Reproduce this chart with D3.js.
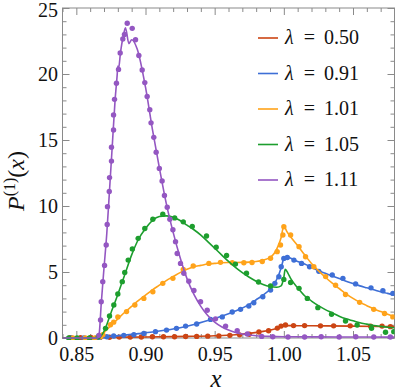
<!DOCTYPE html>
<html><head><meta charset="utf-8">
<script src="https://cdn.jsdelivr.net/npm/d3@7"></script>
<style>body{margin:0;background:#fff}svg{display:block}
svg text{font-family:"Liberation Serif","Times New Roman","DejaVu Serif",serif;}
</style>
</head><body>
<svg id="c" width="395" height="392"></svg>
<script>
// ---------- data ----------
const seriesLabels = ["0.50", "0.91", "1.01", "1.05", "1.11"];
const seriesColors = ["#CC4514", "#3E6FD6", "#FFA31A", "#1D9E2E", "#9457C2"];
const xTicks = [0.85, 0.90, 0.95, 1.00, 1.05];
const xTickLabels = ["0.85", "0.90", "0.95", "1.00", "1.05"];
const yTicks = [0, 5, 10, 15, 20, 25];
const yTickLabels = ["0", "5", "10", "15", "20", "25"];

// theory curves (x, P)
const lineRed = [[0.840,0.02],[0.870,0.05],[0.900,0.08],[0.930,0.12],[0.950,0.17],[0.965,0.25],[0.975,0.35],[0.985,0.5],[0.992,0.65],[0.997,0.8],[1.000,0.92],[1.003,0.94],[1.010,0.93],[1.030,0.92],[1.050,0.9],[1.080,0.86]];
const lineBlue = [[0.840,0],[0.866,0],[0.875,0.12],[0.885,0.22],[0.895,0.33],[0.905,0.45],[0.915,0.6],[0.925,0.78],[0.935,1.02],[0.945,1.32],[0.955,1.65],[0.965,2.05],[0.975,2.55],[0.980,2.9],[0.985,3.25],[0.990,3.7],[0.993,4.1],[0.996,4.7],[0.998,5.3],[1.000,6.0],[1.002,6.15],[1.005,6.05],[1.010,5.8],[1.015,5.6],[1.020,5.35],[1.025,5.1],[1.030,4.9],[1.035,4.7],[1.040,4.5],[1.045,4.3],[1.050,4.12],[1.055,3.95],[1.060,3.8],[1.065,3.65],[1.070,3.5],[1.075,3.38],[1.080,3.25]];
const lineOrange = [[0.840,0],[0.866,0],[0.870,0.4],[0.875,0.95],[0.880,1.45],[0.885,1.95],[0.890,2.4],[0.895,2.85],[0.900,3.25],[0.905,3.65],[0.910,4.0],[0.915,4.35],[0.920,4.65],[0.925,4.95],[0.930,5.2],[0.935,5.4],[0.940,5.5],[0.945,5.6],[0.950,5.65],[0.955,5.7],[0.960,5.72],[0.965,5.72],[0.970,5.73],[0.975,5.75],[0.980,5.8],[0.985,5.9],[0.990,6.1],[0.993,6.4],[0.996,7.0],[0.998,7.6],[1.000,8.5],[1.002,8.1],[1.005,7.65],[1.010,7.0],[1.015,6.3],[1.020,5.65],[1.025,5.1],[1.030,4.6],[1.035,4.15],[1.040,3.75],[1.045,3.35],[1.050,3.0],[1.055,2.7],[1.060,2.45],[1.065,2.2],[1.070,2.0],[1.075,1.8],[1.080,1.62]];
const lineGreen = [[0.840,0],[0.866,0],[0.870,0.5],[0.875,1.9],[0.880,3.3],[0.885,4.8],[0.890,6.3],[0.895,7.5],[0.900,8.3],[0.905,8.9],[0.910,9.2],[0.915,9.25],[0.920,9.15],[0.925,8.9],[0.930,8.55],[0.935,8.2],[0.940,7.8],[0.945,7.3],[0.950,6.8],[0.955,6.3],[0.960,5.8],[0.965,5.35],[0.970,4.95],[0.975,4.6],[0.980,4.3],[0.985,4.05],[0.990,3.9],[0.995,3.85],[0.998,3.95],[1.000,4.6],[1.001,5.2],[1.003,4.9],[1.005,4.5],[1.010,3.8],[1.015,3.2],[1.020,2.8],[1.025,2.45],[1.030,2.15],[1.035,1.9],[1.040,1.65],[1.045,1.45],[1.050,1.3],[1.055,1.15],[1.060,1.05],[1.065,0.95],[1.070,0.88],[1.075,0.82],[1.080,0.78]];
const linePurple = [[0.840,0],[0.8655,0],[0.8665,0.3],[0.868,2.6],[0.870,5.3],[0.872,7.9],[0.874,11.2],[0.876,14.6],[0.878,18.0],[0.8795,19.9],[0.8800,20.6],[0.8805,20.4],[0.882,21.7],[0.884,22.9],[0.8855,23.5],[0.8880,22.3],[0.8900,22.6],[0.8940,21.9],[0.900,19.0],[0.905,15.8],[0.910,12.9],[0.915,10.2],[0.920,8.0],[0.925,6.1],[0.930,4.5],[0.935,3.3],[0.940,2.4],[0.945,1.7],[0.950,1.2],[0.955,0.85],[0.960,0.6],[0.965,0.42],[0.970,0.3],[0.980,0.17],[0.990,0.12],[1.000,0.1],[1.040,0.08],[1.080,0.07]];

// simulation points (x, P)
const dotsRed = [[0.8455,0.02],[0.853,0.03],[0.8605,0.04],[0.8675,0.05],[0.874,0.06],[0.881,0.07],[0.889,0.08],[0.897,0.08],[0.905,0.09],[0.913,0.1],[0.921,0.1],[0.929,0.11],[0.937,0.12],[0.945,0.14],[0.953,0.16],[0.961,0.2],[0.968,0.24],[0.975,0.28],[0.982,0.45],[0.989,0.55],[0.9953,0.75],[0.998,0.9],[1.0012,0.98],[1.007,0.94],[1.015,0.94],[1.0265,0.92],[1.036,0.92],[1.048,0.92],[1.0627,0.9],[1.071,0.9],[1.077,0.86]];
const dotsBlue = [[0.8465,0],[0.8555,0],[0.8665,0],[0.872,0.1],[0.877,0.15],[0.8843,0.2],[0.8916,0.25],[0.8988,0.35],[0.9072,0.48],[0.9152,0.6],[0.9224,0.73],[0.929,0.9],[0.937,1.06],[0.947,1.41],[0.9555,1.6],[0.9627,1.97],[0.9687,2.17],[0.9747,2.42],[0.9783,2.67],[0.9848,3.13],[0.9904,3.64],[0.9935,4.14],[0.9964,4.64],[0.9981,5.4],[1.0,6.03],[1.0025,6.1],[1.0073,5.9],[1.0128,5.65],[1.0186,5.4],[1.0253,5.05],[1.035,4.77],[1.0427,4.52],[1.0519,4.1],[1.063,3.8],[1.0716,3.58],[1.0788,3.38]];
const dotsOrange = [[0.8475,0],[0.8565,0],[0.8635,0],[0.8675,0.1],[0.8691,0.25],[0.8747,1.0],[0.877,1.2],[0.880,1.6],[0.8863,2.0],[0.8923,2.5],[0.8988,3.0],[0.9053,3.5],[0.9125,4.14],[0.9198,4.52],[0.9273,5.2],[0.9345,5.45],[0.9458,5.65],[0.9542,5.73],[0.9627,5.7],[0.9711,5.7],[0.977,5.72],[0.9844,5.8],[0.9904,6.04],[0.9952,6.54],[0.9976,7.05],[0.9993,7.8],[1.0,8.43],[1.0049,7.8],[1.011,6.92],[1.0157,6.16],[1.0217,5.4],[1.0302,4.65],[1.0374,4.0],[1.0446,3.3],[1.0548,2.7],[1.065,2.17],[1.0728,1.86],[1.0788,1.6]];
const dotsGreen = [[0.8445,0],[0.8505,0],[0.8595,0],[0.8658,0.1],[0.8711,0.73],[0.874,1.67],[0.8771,2.5],[0.880,3.33],[0.8832,4.27],[0.885,4.97],[0.8875,5.9],[0.8905,6.75],[0.8947,7.55],[0.8995,8.3],[0.9053,9.0],[0.9125,9.37],[0.9211,9.1],[0.9273,8.8],[0.9338,8.45],[0.9441,7.73],[0.9511,6.87],[0.9586,6.25],[0.965,5.6],[0.973,4.9],[0.9817,4.24],[0.9904,3.94],[1.0,4.44],[1.0049,4.2],[1.011,3.76],[1.017,3.0],[1.0246,2.3],[1.0345,1.8],[1.0446,1.29],[1.053,0.98],[1.0634,0.73],[1.0735,0.43],[1.0795,0.48]];
const dotsPurple = [[0.8663,0.2],[0.8675,1.36],[0.868,2.75],[0.8691,4.27],[0.8704,5.5],[0.8716,7.05],[0.8723,8.6],[0.8725,9.95],[0.8738,11.1],[0.874,12.15],[0.8754,13.4],[0.8754,14.45],[0.8769,15.76],[0.8769,16.9],[0.8776,18.08],[0.879,19.3],[0.8805,20.35],[0.8817,21.6],[0.8836,22.65],[0.8848,23.0],[0.8868,23.84],[0.8904,23.46],[0.8928,22.6],[0.8952,21.4],[0.8976,20.3],[0.8995,19.35],[0.9012,18.3],[0.9031,17.3],[0.904,16.3],[0.906,15.2],[0.9077,14.07],[0.910,12.85],[0.912,11.9],[0.9137,10.8],[0.9157,9.9],[0.9176,9.0],[0.9198,8.2],[0.9217,7.3],[0.9229,6.4],[0.9253,5.65],[0.9277,4.9],[0.9313,4.3],[0.935,3.6],[0.9398,2.75],[0.9446,2.1],[0.9506,1.45],[0.9579,0.9],[0.9663,0.55],[0.9736,0.3],[0.984,0.12],[0.992,0.1],[1.003,0.08],[1.015,0.08],[1.027,0.1],[1.04,0.08],[1.052,0.1],[1.065,0.08],[1.077,0.08]];

const lines = [lineRed, lineBlue, lineOrange, lineGreen, linePurple];
const dots = [dotsRed, dotsBlue, dotsOrange, dotsGreen, dotsPurple];

// ---------- drawing ----------
const svg = d3.select("#c");
const L = 62.5, R = 394.5, T = 8, B = 338;
const x = d3.scaleLinear().domain([0.84, 1.08]).range([L, R]);
const y = d3.scaleLinear().domain([0, 25]).range([B, T]);
const tickCol = "#8a8a8a";

const xMinor = d3.range(84, 109).map(v => v / 100).filter(v => !xTicks.some(t => Math.abs(t - v) < 1e-9));
const yMinor = d3.range(0, 26).filter(v => v % 5 !== 0);

function styleAxis(g) {
  g.select(".domain").remove();
  g.selectAll("line").attr("stroke", tickCol).attr("stroke-width", 1);
  g.selectAll("text").attr("font-family", null).attr("font-size", 20).attr("fill", "#111");
}
// bottom
svg.append("g").attr("transform", `translate(0,${B})`)
  .call(d3.axisBottom(x).tickValues(xTicks).tickFormat((d, i) => xTickLabels[i]).tickSize(-7).tickPadding(9)).call(styleAxis);
svg.append("g").attr("transform", `translate(0,${B})`)
  .call(d3.axisBottom(x).tickValues(xMinor).tickFormat("").tickSize(-4)).call(styleAxis);
// top
svg.append("g").attr("transform", `translate(0,${T})`)
  .call(d3.axisTop(x).tickValues(xTicks).tickFormat("").tickSize(-7)).call(styleAxis);
svg.append("g").attr("transform", `translate(0,${T})`)
  .call(d3.axisTop(x).tickValues(xMinor).tickFormat("").tickSize(-4)).call(styleAxis);
// left
const yAx = svg.append("g").attr("transform", `translate(${L},0)`)
  .call(d3.axisLeft(y).tickValues(yTicks).tickFormat((d, i) => yTickLabels[i]).tickSize(-7).tickPadding(4.5)).call(styleAxis);
yAx.selectAll("text").filter(d => d === 25).attr("dy", "0.42em");
svg.append("g").attr("transform", `translate(${L},0)`)
  .call(d3.axisLeft(y).tickValues(yMinor).tickFormat("").tickSize(-4)).call(styleAxis);
// right
svg.append("g").attr("transform", `translate(${R},0)`)
  .call(d3.axisRight(y).tickValues(yTicks).tickFormat("").tickSize(-7)).call(styleAxis);
svg.append("g").attr("transform", `translate(${R},0)`)
  .call(d3.axisRight(y).tickValues(yMinor).tickFormat("").tickSize(-4)).call(styleAxis);

// frame
svg.append("rect").attr("x", L).attr("y", T).attr("width", R - L).attr("height", B - T)
  .attr("fill", "none").attr("stroke", tickCol).attr("stroke-width", 1);

// clip
svg.append("clipPath").attr("id", "clip").append("rect")
  .attr("x", L).attr("y", T - 2).attr("width", R - L).attr("height", B - T + 4);

const lineGen = d3.line().x(d => x(d[0])).y(d => y(d[1])).curve(d3.curveMonotoneX);
const plot = svg.append("g").attr("clip-path", "url(#clip)");
lines.forEach((ln, i) => {
  plot.append("path").datum(ln).attr("d", lineGen)
    .attr("fill", "none").attr("stroke", seriesColors[i]).attr("stroke-width", 1.6)
    .attr("stroke-linejoin", "round");
  plot.append("g").selectAll("circle").data(dots[i]).join("circle")
    .attr("cx", d => x(d[0])).attr("cy", d => y(d[1])).attr("r", 2.7)
    .attr("fill", seriesColors[i]);
});

// legend
const legY = [38, 73.5, 109, 144.5, 180];
seriesLabels.forEach((lab, i) => {
  const g = svg.append("g");
  g.append("line").attr("x1", 258).attr("x2", 278).attr("y1", legY[i]).attr("y2", legY[i])
    .attr("stroke", seriesColors[i]).attr("stroke-width", 1.6);
  g.append("text").attr("x", 285).attr("y", legY[i] + 6)
    .attr("font-size", 20).attr("font-style", "italic").attr("fill", "#111").text("λ");
  g.append("text").attr("x", 309.5).attr("y", legY[i] + 6).attr("text-anchor", "middle")
    .attr("font-size", 20).attr("fill", "#111").text("=");
  g.append("text").attr("x", 324).attr("y", legY[i] + 6)
    .attr("font-size", 20).attr("fill", "#111").text(lab);
});

// axis titles
svg.append("text").attr("x", 216).attr("y", 387).attr("text-anchor", "middle")
  .attr("font-size", 25).attr("font-style", "italic").attr("fill", "#111").text("x");

const yl = svg.append("text").attr("transform", "translate(24,181) rotate(-90)")
  .attr("text-anchor", "middle").attr("font-size", 24).attr("fill", "#111");
yl.append("tspan").attr("font-style", "italic").text("P");
yl.append("tspan").attr("font-size", 16).attr("dy", -9).text("(1)");
yl.append("tspan").attr("dy", 9).text("(");
yl.append("tspan").attr("font-style", "italic").text("x");
yl.append("tspan").text(")");
</script>
</body></html>
